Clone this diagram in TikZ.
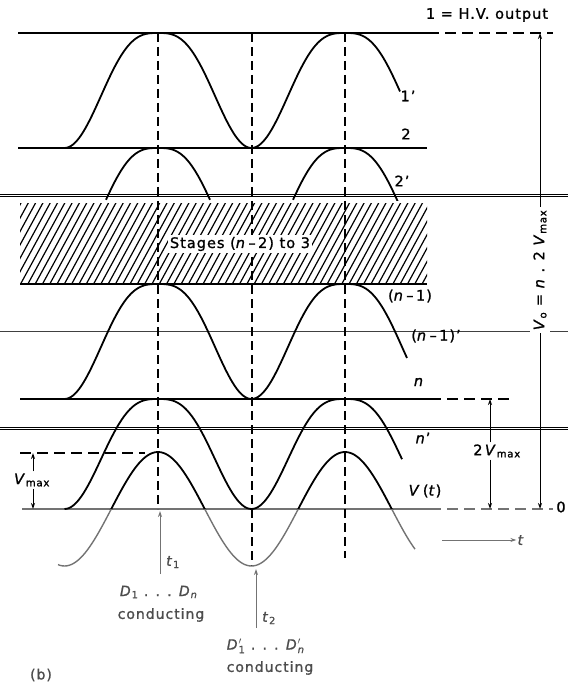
\documentclass[tikz,border=0pt]{standalone}
\usepackage{fontspec}
\setmainfont{DejaVu Sans}[LetterSpace=7, FakeBold=1.2]
\usetikzlibrary{arrows.meta,calc}
\definecolor{scan}{gray}{0.45}
\definecolor{scandark}{gray}{0.3}
\newcommand\myDp[1]{\textit{D}$'_{\mbox{\fontsize{10}{10}\selectfont #1}}$}
\begin{document}
\begin{tikzpicture}[x=1pt,y=-1pt,
  declare function={ph(\t)=(\t-158)*1.925134; gg(\t)=abs((1-cos(ph(\t)))/2); bell(\t)=gg(\t)*sqrt(gg(\t));},
  heavy/.style={line width=1.5pt},
  thinline/.style={line width=0.6pt, black!75},
  dbl/.style={double distance=1.6pt, line width=0.45pt},
  wave/.style={line width=1.8pt, line join=round},
  vdash/.style={line width=1.5pt, dash pattern=on 9pt off 5pt},
  hdash/.style={line width=1.3pt, dash pattern=on 11pt off 6pt},
  arr/.style={line width=1pt, -{Stealth[length=6pt,width=4pt]}},
  lab/.style={font=\fontsize{14.5}{17}\selectfont, inner sep=1pt},
  sublab/.style={font=\fontsize{14}{16}\selectfont, inner sep=1pt, text=scandark},
]
\useasboundingbox (0,0) rectangle (568,684);

% ---------- horizontal lines ----------
\coordinate (a1) at (18,33);  \coordinate (b1) at (428,33);  \coordinate (c1) at (553,33);
\draw[heavy] (a1) -- (b1); \draw[hdash] (b1) -- (c1);
\coordinate (a2) at (18,148); \coordinate (b2) at (427,148);
\draw[heavy] (a2) -- (b2);
\coordinate (d1l) at (0,195.5); \coordinate (d1r) at (568,195.5);
\draw[dbl] (d1l) -- (d1r);

% hatched block
\begin{scope}
\clip (20,204) rectangle (427,284);
\foreach \i in {0,...,68} \draw[line width=1.2pt] ({-40+7.3*\i},288) -- ++(48,-88);
\end{scope}

\coordinate (a3) at (20,284); \coordinate (b3) at (427,284);
\draw[heavy] (a3) -- (b3);
\coordinate (t4l) at (0,331); \coordinate (t4r) at (568,331);
\draw[thinline] (t4l) -- (t4r);
\coordinate (a5) at (20,399); \coordinate (b5) at (430,399); \coordinate (c5) at (515,399);
\draw[heavy] (a5) -- (b5); \draw[hdash] (b5) -- (c5);
\coordinate (d2l) at (0,428.5); \coordinate (d2r) at (568,428.5);
\draw[dbl] (d2l) -- (d2r);
\coordinate (vma) at (20,453); \coordinate (vmb) at (145,453);
\draw[hdash, line width=1.2pt] (vma) -- (vmb);
\coordinate (z0) at (22,509); \coordinate (z1) at (430,509); \coordinate (z2) at (553,509);
\draw[heavy, scan, line width=1.3pt] (z0) -- (z1);
\draw[hdash, scan] (z1) -- (z2);

% ---------- vertical dashed lines ----------
\coordinate (p1t) at (158,33); \coordinate (p1b) at (158,509);
\coordinate (p2t) at (252,33); \coordinate (p2b) at (252,566);
\coordinate (p3t) at (345,33); \coordinate (p3b) at (345,558);
\draw[vdash] (p1t) -- (p1b);
\draw[vdash] (p2t) -- (p2b);
\draw[vdash] (p3t) -- (p3b);

% ---------- waves ----------
\draw[wave] plot[domain=64.5:400, samples=160] (\x, {33+115*bell(\x)});
\begin{scope}
\clip (0,0) rectangle (568,200.5);
\draw[wave] plot[domain=106:210, samples=80] (\x, {148+115*bell(\x)});
\draw[wave] plot[domain=293:398, samples=80] (\x, {148+115*bell(\x)});
\end{scope}
\draw[wave] plot[domain=64.5:407, samples=160] (\x, {284+115*bell(\x)});
\draw[wave] plot[domain=64.5:402, samples=160] (\x, {399+110*bell(\x)});
\begin{scope}
\clip (0,0) rectangle (568,509);
\draw[wave] plot[domain=58:415, samples=160] (\x, {509-57*cos(ph(\x))});
\end{scope}
\begin{scope}
\clip (0,509) rectangle (568,684);
\draw[wave, scan, line width=1.4pt] plot[domain=58:415, samples=160] (\x, {509-57*cos(ph(\x))});
\end{scope}

% ---------- labels ----------
\node[lab, fill=white, inner sep=1.5pt] (stg) at (240,244) {Stages (\textit{n}\,–\,2) to 3};
\node[lab] (l1) at (487,15) {1 = H.V. output};
\node[lab] (l1p) at (408,96) {1’};
\node[lab] (l2) at (406,134) {2};
\node[lab] (l2p) at (402,181) {2’};
\node[lab] (ln1) at (410,296) {(\textit{n}\,–\,1)};
\node[lab] (ln1p) at (436,336) {(\textit{n}\,–\,1)’};
\node[lab] (ln) at (419,382) {\textit{n}};
\node[lab] (lnp) at (423,438) {\textit{n}’};
\node[lab] (lvt) at (425,491) {\textit{V}\,(\textit{t})};
\node[lab] (l0) at (561,507) {0};

% V_o arrow
\node[lab, rotate=90, fill=white, inner sep=3pt] (vo) at (540,270) {\textit{V}\textsubscript{o} = \textit{n} . 2 \textit{V}\textsubscript{max}};
\coordinate (votop) at (540,33); \coordinate (vobot) at (540,509);
\draw[arr] (vo.east) -- (votop);
\draw[arr] (vo.west) -- (vobot);

% 2 V_max arrow
\node[lab, fill=white, inner sep=2pt] (tv) at (497,451) {2\,\textit{V}\textsubscript{max}};
\coordinate (tvtop) at (490,399); \coordinate (tvbot) at (490,509);
\draw[arr] (tvtop |- tv.north) -- (tvtop);
\draw[arr] (tvbot |- tv.south) -- (tvbot);

% V_max arrow
\node[lab, fill=white, inner sep=2pt] (vm) at (32,480) {\textit{V}\textsubscript{max}};
\coordinate (vmtop) at (33,453); \coordinate (vmbot) at (33,509);
\draw[arr] (vmtop |- vm.north) -- (vmtop);
\draw[arr] (vmbot |- vm.south) -- (vmbot);

% time arrow
\coordinate (ta) at (442,540);
\node[sublab] (tl) at (521,540) {\textit{t}};
\draw[arr, scan] (ta) -- (tl.west);

% t1
\coordinate (t1b) at (160,574); \coordinate (t1t) at (160,511);
\draw[arr, scan] (t1b) -- (t1t);
\node[sublab, anchor=west] (t1l) at (165,562) {\textit{t}\textsubscript{1}};
\node[sublab] (d1) at (159,592) {\textit{D}\textsubscript{1} . . . \textit{D}\textsubscript{\textit{n}}};
\node[sublab] (c1l) at (161,615) {conducting};

% t2
\coordinate (t2b) at (256,628); \coordinate (t2t) at (256,569);
\draw[arr, scan] (t2b) -- (t2t);
\node[sublab, anchor=west] (t2l) at (261,618) {\textit{t}\textsubscript{2}};
\node[sublab] (d2) at (266,646) {\myDp{1} . . . \myDp{\textit{n}}};
\node[sublab] (c2l) at (270,668) {conducting};

\node[sublab] (lb) at (41,675) {(b)};
\end{tikzpicture}
\end{document}
